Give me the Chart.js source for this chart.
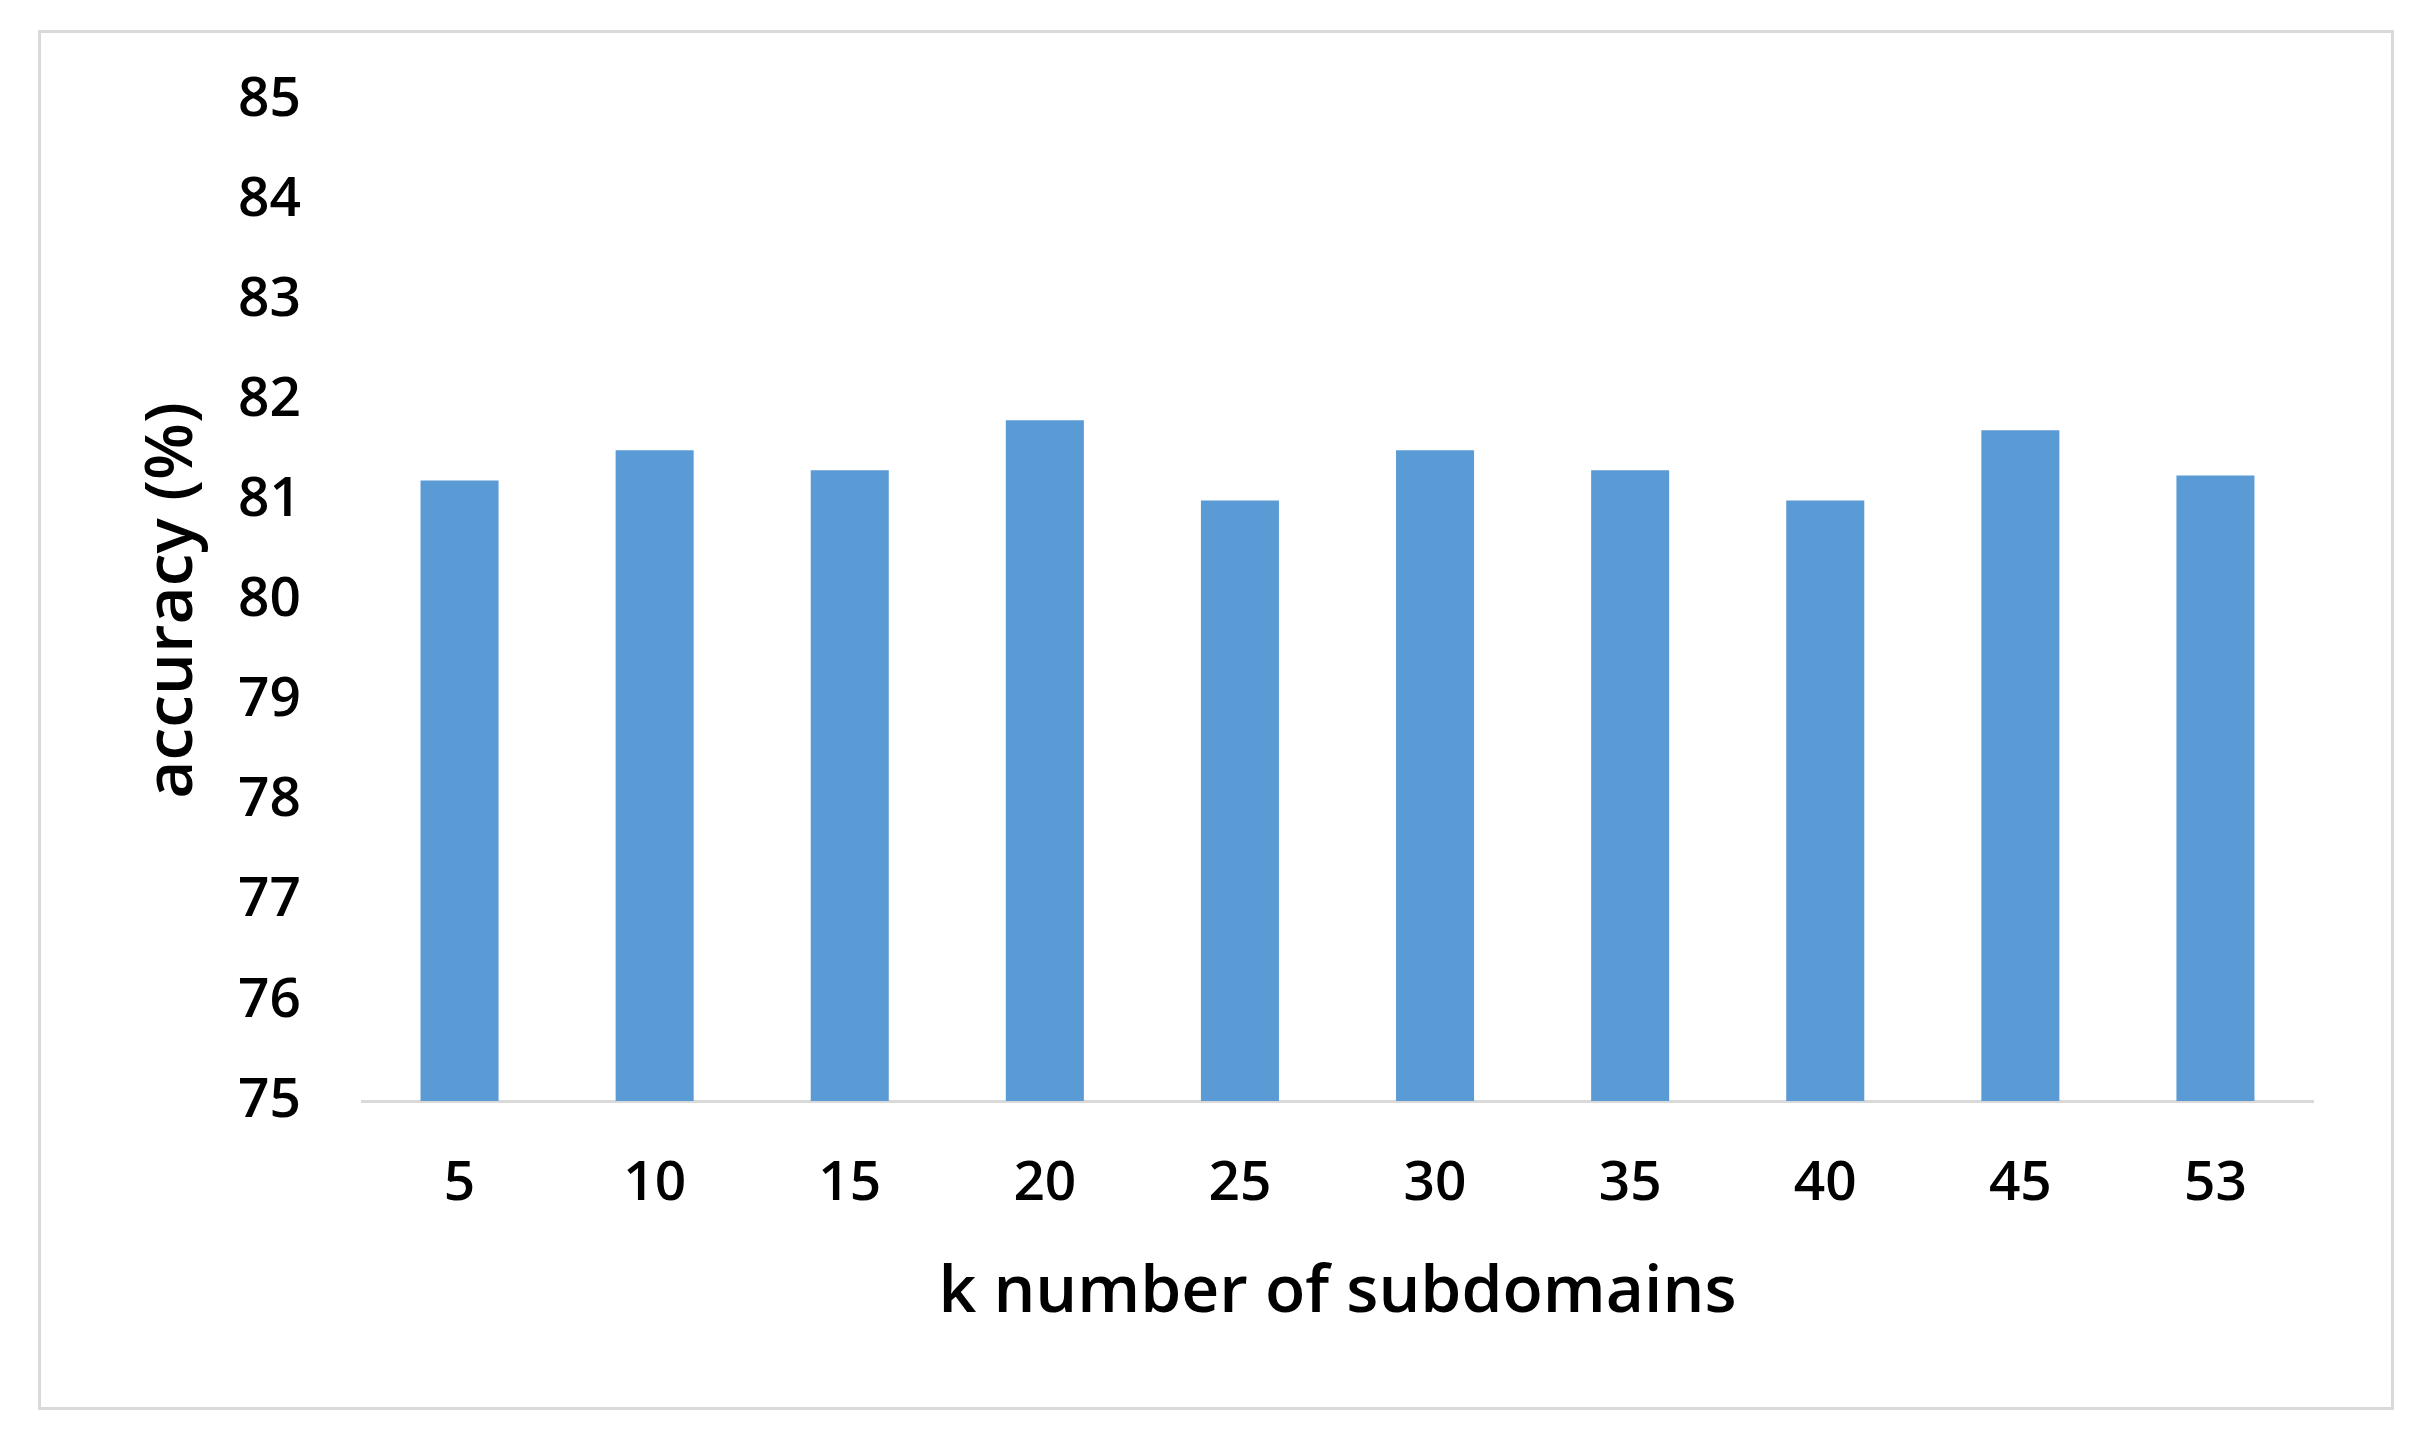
<!DOCTYPE html>
<html>
<head>
<meta charset="utf-8">
<script src="https://cdn.jsdelivr.net/npm/chart.js@4.4.1/dist/chart.umd.min.js"></script>
<style>
    html, body { margin: 0; padding: 0; background: #fff; }
    #wrap { position: relative; width: 2422px; height: 1444px; }
    #frame {
        position: absolute; left: 38px; top: 30px;
        width: 2350px; height: 1374px;
        border: 3px solid #d9d9d9;
    }
    #chart { position: absolute; left: 0; top: 0; }
</style>
</head>
<body>
<div id="wrap">
    <div id="frame"></div>
    <canvas id="chart" width="2422" height="1444"></canvas>
</div>
<script>
// données
const categories = ['5', '10', '15', '20', '25', '30', '35', '40', '45', '53'];
const accuracy = [81.2, 81.5, 81.3, 81.8, 81.0, 81.5, 81.3, 81.0, 81.7, 81.25];
const yMin = 75;
const yMax = 85;

const fontFamily = '"Open Sans", "DejaVu Sans", sans-serif';
const tickFont = { family: fontFamily, size: 55, weight: '600', lineHeight: 1.2 };
const titleFont = { family: fontFamily, size: 66, weight: '600', lineHeight: 1.2 };

const ctx = document.getElementById('chart').getContext('2d');
new Chart(ctx, {
    type: 'bar',
    data: {
        labels: categories,
        datasets: [{
            label: 'accuracy',
            data: accuracy,
            backgroundColor: '#5b9bd5',
            borderWidth: 0,
            barPercentage: 0.4,
            categoryPercentage: 1.0
        }]
    },
    options: {
        responsive: false,
        animation: false,
        devicePixelRatio: 1,
        layout: { padding: { left: 0, top: 100, right: 109, bottom: 83 } },
        plugins: {
            legend: { display: false },
            tooltip: { enabled: false }
        },
        scales: {
            x: {
                grid: { display: false, drawTicks: false },
                border: { display: true, color: '#d9d9d9', width: 3 },
                ticks: { color: '#000', font: tickFont, padding: 50, maxRotation: 0 },
                title: {
                    display: true,
                    text: 'k number of subdomains',
                    color: '#000',
                    font: titleFont,
                    padding: { top: 28, bottom: 28 }
                },
                afterFit: (scale) => { scale.height = 260; }
            },
            y: {
                min: yMin,
                max: yMax,
                grid: { display: false, drawTicks: false },
                border: { display: false },
                ticks: { stepSize: 1, color: '#000', font: tickFont, padding: 61 },
                title: {
                    display: true,
                    text: 'accuracy (%)',
                    color: '#000',
                    font: titleFont,
                    padding: { top: 134, bottom: 134 }
                },
                afterFit: (scale) => { scale.width = 362; }
            }
        }
    }
});
</script>
</body>
</html>
